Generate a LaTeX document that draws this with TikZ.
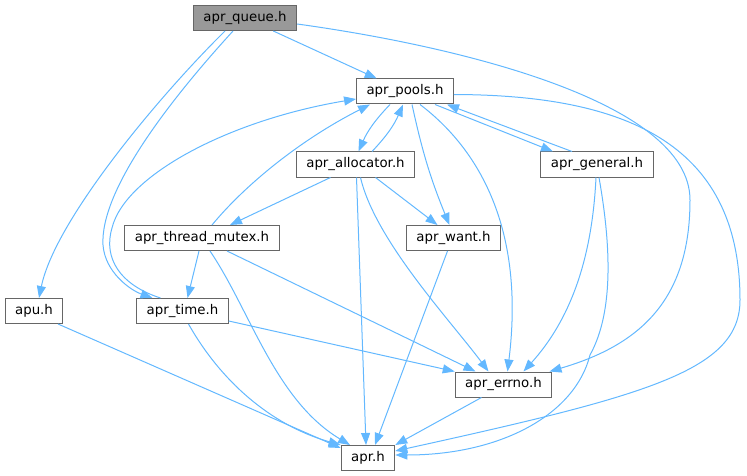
\documentclass[tikz,border=0pt]{standalone}
\usepackage{fontspec}
\setmainfont{DejaVu Sans}
\usetikzlibrary{arrows.meta}
\definecolor{hdrline}{HTML}{666666}
\definecolor{rootfill}{HTML}{999999}
\definecolor{deplink}{HTML}{63B8FF}

\begin{document}
\begin{tikzpicture}[x=1pt,y=-1pt,
  >={Triangle[length=12pt,width=9pt]},
  hdr/.style={rectangle, draw=hdrline, fill=white, line width=1pt, minimum height=25pt, inner xsep=10pt, inner ysep=0pt, font=\fontsize{13.33}{16}\selectfont},
  root/.style={hdr, fill=rootfill},
  dep/.style={->, draw=deplink, line width=1pt}]
\useasboundingbox (0,0) rectangle (747,476);
\node [root] (Q) at (245,18) {apr\_queue.h};
\node [hdr] (P) at (405,91.5) {apr\_pools.h};
\node [hdr] (L) at (355.5,164.5) {apr\_allocator.h};
\node [hdr] (G) at (597,164.5) {apr\_general.h};
\node [hdr] (M) at (202,238) {apr\_thread\_mutex.h};
\node [hdr] (W) at (453.5,238) {apr\_want.h};
\node [hdr] (U) at (34,311) {apu.h};
\node [hdr] (T) at (182.5,311) {apr\_time.h};
\node [hdr] (E) at (503.5,384.5) {apr\_errno.h};
\node [hdr] (R) at (368,458) {apr.h};
% apr_queue.h
\draw[dep] (Q) to (P);
\draw[dep] ([xshift=-20pt]Q.south) .. controls (160,95) and (55,220) .. ([xshift=5pt]U.north);
\draw[dep] ([xshift=-12pt]Q.south) .. controls (170,100) and (100,190) .. (103,245) .. controls (105,272) and (130,290) .. ([xshift=-30pt]T.north);
\draw[dep] ([yshift=-6pt]Q.east) .. controls (450,45) and (690,100) .. (690,200) .. controls (690,300) and (640,345) .. ([xshift=46pt]E.north);
% apr_pools.h
\draw[dep] ([xshift=-15pt]P.south) to[bend right=10] ([xshift=3pt]L.north);
\draw[dep] ([xshift=30pt]P.south) to ([xshift=-44pt]G.north);
\draw[dep] ([xshift=7pt]P.south) to[bend right=5] ([xshift=-4pt]W.north);
\draw[dep] ([xshift=15pt]P.south) .. controls (480,150) and (525,230) .. ([xshift=4pt]E.north);
\draw[dep] ([yshift=-3pt]P.east) .. controls (620,95) and (740,140) .. (740,300) .. controls (740,370) and (650,395) .. ([yshift=7pt]R.east);
% apr_allocator.h
\draw[dep] ([xshift=16.5pt]L.north) to[bend right=10] ([xshift=-2pt]P.south);
\draw[dep] ([xshift=-25pt]L.south) to ([xshift=28pt]M.north);
\draw[dep] ([xshift=20pt]L.south) to ([xshift=-16pt]W.north);
\draw[dep] ([xshift=5pt]L.south) .. controls (375,240) and (450,320) .. ([xshift=-15pt]E.north);
\draw[dep] ([xshift=1pt]L.south) to ([xshift=-2pt]R.north);
% apr_general.h
\draw[dep] ([xshift=-25pt]G.north) to ([xshift=42pt]P.south);
\draw[dep] ([xshift=-1pt]G.south) .. controls (592,260) and (570,320) .. ([xshift=20pt]E.north);
\draw[dep] ([xshift=2pt]G.south) .. controls (610,240) and (615,310) .. (590,355) .. controls (575,415) and (500,455) .. ([yshift=3pt]R.east);
% apr_thread_mutex.h
\draw[dep] ([xshift=10pt]M.north) .. controls (245,185) and (300,140) .. ([xshift=-35pt]P.south);
\draw[dep] ([xshift=-3pt]M.south) to ([xshift=5pt]T.north);
\draw[dep] ([xshift=25pt]M.south) to ([xshift=-28pt]E.north);
\draw[dep] ([xshift=8pt]M.south) .. controls (250,310) and (275,400) .. ([xshift=-18pt]R.north);
% apr_time.h
\draw[dep] ([xshift=-22pt]T.north) .. controls (120,285) and (103,258) .. (112,228) .. controls (125,175) and (230,120) .. ([yshift=-7.5pt]P.west);
\draw[dep] ([yshift=-10pt]T.east) to (E.north west);
\draw[dep] ([xshift=6pt]T.south) .. controls (220,380) and (270,425) .. (R.north west);
% the rest
\draw[dep] ([xshift=24pt]U.south) to ([yshift=10pt]R.west);
\draw[dep] ([xshift=-6pt]W.south) to ([xshift=7pt]R.north);
\draw[dep] ([xshift=-22pt]E.south) to (R.north east);
\end{tikzpicture}
\end{document}
